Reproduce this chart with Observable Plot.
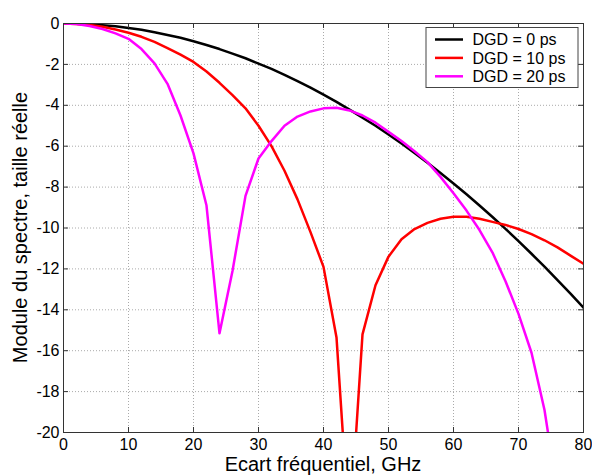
<!DOCTYPE html>
<html><head><meta charset="utf-8">
<script src="https://cdn.jsdelivr.net/npm/d3@7"></script>
<script src="https://cdn.jsdelivr.net/npm/@observablehq/plot@0.6"></script>
<style>html,body{margin:0;padding:0;background:#fff;} svg{display:block;}</style>
</head><body><div id="chart"></div>
<script>
const freq = [0,2,4,6,8,10,12,14,16,18,20,22,24,26,28,30,32,34,36,38,40,42,44,46,48,50,52,54,56,58,60,62,64,66,68,70,72,74,76,78,80];
const dgd0 = [0,-0.01,-0.04,-0.08,-0.14,-0.22,-0.31,-0.43,-0.56,-0.70,-0.87,-1.05,-1.25,-1.47,-1.70,-1.96,-2.22,-2.51,-2.82,-3.14,-3.48,-3.83,-4.21,-4.60,-5.00,-5.43,-5.87,-6.33,-6.81,-7.31,-7.82,-8.35,-8.90,-9.46,-10.04,-10.64,-11.26,-11.89,-12.55,-13.21,-13.90];
const dgd10 = [0,-0.02,-0.07,-0.16,-0.29,-0.45,-0.65,-0.90,-1.20,-1.52,-1.88,-2.35,-2.90,-3.50,-4.15,-5.00,-6.00,-7.20,-8.60,-10.20,-11.90,-15.35,-25,-15.20,-12.80,-11.40,-10.55,-10.05,-9.75,-9.55,-9.45,-9.45,-9.55,-9.70,-9.85,-10.05,-10.30,-10.60,-10.95,-11.35,-11.75];
const dgd20 = [0,-0.03,-0.12,-0.27,-0.48,-0.75,-1.25,-1.95,-2.95,-4.50,-6.35,-8.90,-15.15,-12.10,-8.43,-6.60,-5.75,-5.00,-4.55,-4.30,-4.15,-4.12,-4.25,-4.50,-4.85,-5.30,-5.75,-6.25,-6.78,-7.50,-8.30,-9.15,-10.10,-11.20,-12.60,-14.20,-16.10,-18.90,-23.00,null,null];
const seriesNames = ["DGD = 0 ps","DGD = 10 ps","DGD = 20 ps"];
const seriesColors = ["#000000","#ff0000","#ff00ff"];
const xTicks = [0,10,20,30,40,50,60,70,80];
const yTicks = [0,-2,-4,-6,-8,-10,-12,-14,-16,-18,-20];
const xLabel = "Ecart fréquentiel, GHz";
const yLabel = "Module du spectre, taille réelle";

const rows = [];
[dgd0, dgd10, dgd20].forEach((arr, i) => arr.forEach((v, j) => {
  if (v != null) rows.push({f: freq[j], v, s: seriesNames[i]});
}));

const W = 592, H = 476;
const mL = 63, mR = 9, mT = 23, mB = 44;
const innerW = W - mL - mR, innerH = H - mT - mB;
const FONT = "'Liberation Sans', Arial, sans-serif";
const axisColor = "#333";

function annotations(index, scales, values, dims) {
  const g = d3.create("svg:g").attr("font-family", FONT).attr("fill", "#000");
  const left = dims.marginLeft, right = dims.width - dims.marginRight;
  const top = dims.marginTop, bottom = dims.height - dims.marginBottom;
  // axis labels
  g.append("text").attr("x", (left + right) / 2).attr("y", 471)
    .attr("text-anchor", "middle").attr("font-size", 20).text(xLabel);
  g.append("text").attr("transform", `translate(27,${(top + bottom) / 2}) rotate(-90)`)
    .attr("text-anchor", "middle").attr("font-size", 20).text(yLabel);
  // legend
  const bx = right - 157, by = top + 4.5, bw = 152, bh = 60;
  g.append("rect").attr("x", bx).attr("y", by).attr("width", bw).attr("height", bh)
    .attr("fill", "#fff").attr("stroke", "#444").attr("stroke-width", 1);
  seriesNames.forEach((name, i) => {
    const cy = by + 12 + i * 18.4;
    g.append("line").attr("x1", bx + 9).attr("x2", bx + 37).attr("y1", cy).attr("y2", cy)
      .attr("stroke", seriesColors[i]).attr("stroke-width", 2.5);
    g.append("text").attr("x", bx + 46.5).attr("y", cy).attr("dy", "0.35em")
      .attr("text-anchor", "start").attr("font-size", 16).text(name);
  });
  return g.node();
}

const chart = Plot.plot({
  width: W, height: H,
  marginLeft: mL, marginRight: mR, marginTop: mT, marginBottom: mB,
  style: {fontFamily: FONT, background: "#fff", color: "#000"},
  x: {domain: [0, 80], axis: null},
  y: {domain: [-20, 0], axis: null},
  color: {domain: seriesNames, range: seriesColors},
  marks: [
    Plot.ruleX(xTicks, {x: d => d, stroke: "#aaa", strokeDasharray: "1,2"}),
    Plot.ruleY(yTicks, {y: d => d, stroke: "#aaa", strokeDasharray: "1,2"}),
    Plot.line(rows, {x: "f", y: "v", z: "s", stroke: "s", strokeWidth: 2.5, clip: true}),
    Plot.frame({stroke: axisColor, strokeWidth: 1}),
    Plot.tickX(xTicks, {x: d => d, insetTop: innerH - 5, stroke: axisColor}),
    Plot.tickX(xTicks, {x: d => d, insetBottom: innerH - 5, stroke: axisColor}),
    Plot.tickY(yTicks, {y: d => d, insetRight: innerW - 5, stroke: axisColor}),
    Plot.tickY(yTicks, {y: d => d, insetLeft: innerW - 5, stroke: axisColor}),
    Plot.axisX(xTicks, {anchor: "bottom", tickSize: 0, tickPadding: 6, fontSize: 16, label: null, tickFormat: d => String(d)}),
    Plot.axisY(yTicks, {anchor: "left", tickSize: 0, tickPadding: 4, fontSize: 16, label: null, tickFormat: d => String(d)}),
    annotations
  ]
});
document.getElementById("chart").appendChild(chart);
</script>
</body></html>
